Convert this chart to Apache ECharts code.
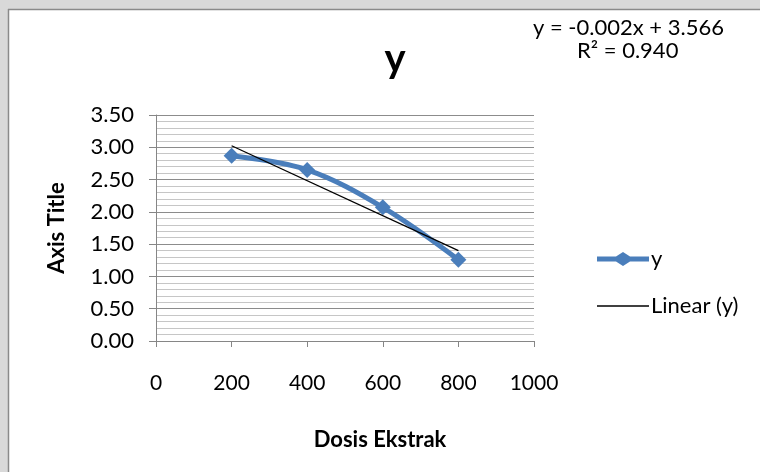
<!DOCTYPE html>
<html>
<head>
<meta charset="utf-8">
<script src="https://cdn.jsdelivr.net/npm/echarts@6/dist/echarts.min.js"></script>
<style>
html,body{margin:0;padding:0;background:#fff;}
#main{width:760px;height:472px;}
</style>
</head>
<body>
<div id="main"></div>
<script>
// data
var dosis = [200, 400, 600, 800];
var nilaiY = [2.87, 2.65, 2.07, 1.26];
var xTicks = [0, 200, 400, 600, 800, 1000];
var eqText = 'y = -0.002x + 3.566';
var r2Text = 'R² = 0.940';

// linear trendline (least squares) from the data
var n = dosis.length, mx = 0, my = 0;
for (var i = 0; i < n; i++) { mx += dosis[i]; my += nilaiY[i]; }
mx /= n; my /= n;
var sxy = 0, sxx = 0;
for (var i = 0; i < n; i++) { sxy += (dosis[i] - mx) * (nilaiY[i] - my); sxx += (dosis[i] - mx) * (dosis[i] - mx); }
var slope = sxy / sxx, icept = my - slope * mx;
var trend = [[dosis[0], icept + slope * dosis[0]], [dosis[n - 1], icept + slope * dosis[n - 1]]];

var font = 'Lato, "Open Sans", sans-serif';
var myChart = echarts.init(document.getElementById('main'));

option = {
    backgroundColor: '#fff',
    animation: false,
    textStyle: {fontFamily: font},
    title: {
        text: 'y',
        left: 390,
        top: 34,
        textAlign: 'center',
        textStyle: {fontSize: 40, fontWeight: 'bold', color: '#000', fontFamily: font}
    },
    graphic: [
        {type: 'rect', shape: {x: 0, y: 0, width: 760, height: 9}, style: {fill: '#d9d9d9'}, silent: true},
        {type: 'rect', shape: {x: 0, y: 0, width: 8, height: 472}, style: {fill: '#d9d9d9'}, silent: true},
        {type: 'line', shape: {x1: 8, y1: 9.5, x2: 760, y2: 9.5}, style: {stroke: '#8a8a8a', lineWidth: 1.5}},
        {type: 'line', shape: {x1: 8.5, y1: 9, x2: 8.5, y2: 472}, style: {stroke: '#8a8a8a', lineWidth: 1.5}},
        {type: 'text', left: 533, top: 17, style: {text: eqText, fontSize: 22, fontFamily: font, fill: '#000'}},
        {type: 'text', left: 577, top: 40, style: {text: r2Text, fontSize: 22, fontFamily: font, fill: '#000'}}
    ],
    legend: {
        orient: 'vertical',
        left: 597,
        top: 248,
        padding: 0,
        itemWidth: 52,
        itemHeight: 14,
        itemGap: 25,
        symbolKeepAspect: true,
        textStyle: {fontSize: 22, color: '#000', fontFamily: font, padding: [0, 0, 0, -3]},
        data: [
            {name: 'y', icon: 'path://M0,4.5L19,4.5L26,0L33,4.5L52,4.5L52,9.5L33,9.5L26,14L19,9.5L0,9.5Z'},
            {name: 'Linear (y)', icon: 'path://M0,0L52,0L52,1.4L0,1.4Z'}
        ]
    },
    grid: {left: 156, right: 226, top: 115, bottom: 131},
    xAxis: {
        type: 'value',
        min: 0,
        max: 1000,
        interval: 200,
        name: 'Dosis Ekstrak',
        nameLocation: 'middle',
        nameGap: 88,
        nameTextStyle: {fontSize: 22, fontWeight: 'bold', color: '#000', fontFamily: font, padding: [0, 0, 0, 70]},
        axisLine: {show: true, lineStyle: {color: '#868686', width: 1}},
        axisTick: {show: true, length: 6, lineStyle: {color: '#868686'}},
        axisLabel: {
            margin: 32, fontSize: 21, color: '#000', fontFamily: font,
            formatter: function (v) { return xTicks.indexOf(v) >= 0 ? String(v) : ''; }
        },
        splitLine: {show: false}
    },
    yAxis: {
        type: 'value',
        min: 0,
        max: 3.5,
        interval: 0.5,
        name: 'Axis Title',
        nameLocation: 'middle',
        nameGap: 88,
        nameRotate: 90,
        nameTextStyle: {fontSize: 22, fontWeight: 'bold', color: '#000', fontFamily: font},
        axisLine: {show: true, lineStyle: {color: '#868686', width: 1}},
        axisTick: {show: true, length: 7, lineStyle: {color: '#868686'}},
        axisLabel: {
            margin: 22, fontSize: 22, color: '#000', fontFamily: font,
            formatter: function (v) { return v.toFixed(2); }
        },
        splitLine: {show: true, lineStyle: {color: '#8c8c8c', width: 1}},
        minorTick: {show: false, splitNumber: 5},
        minorSplitLine: {show: true, lineStyle: {color: '#c6c6c6', width: 1}}
    },
    series: [
        {
            name: 'y',
            type: 'line',
            data: dosis.map(function (d, i) { return [d, nilaiY[i]]; }),
            smooth: 0.35,
            symbol: 'diamond',
            symbolSize: 16,
            itemStyle: {color: '#4a7ebb'},
            lineStyle: {color: '#4a7ebb', width: 5},
            z: 3
        },
        {
            name: 'Linear (y)',
            type: 'line',
            data: trend,
            symbol: 'none',
            itemStyle: {color: '#000'},
            lineStyle: {color: '#000', width: 1.3},
            z: 4
        }
    ]
};
myChart.setOption(option);
</script>
</body>
</html>
